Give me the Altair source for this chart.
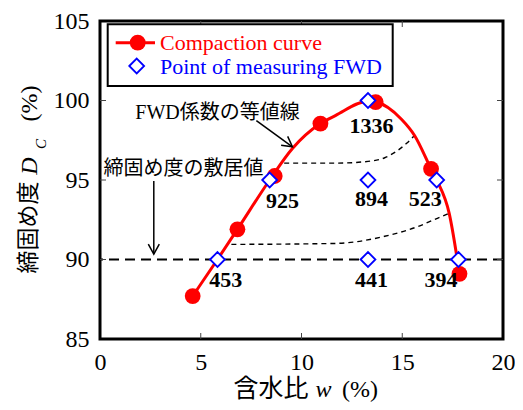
import altair as alt
import pandas as pd

SERIF = "Liberation Serif"
MIXED = "Liberation Serif, Noto Sans CJK JP"
W, H = 403, 318

# Compaction curve measured points
comp_x = [4.60, 6.82, 8.67, 10.94, 13.68, 16.43, 17.84]
comp_y = [87.7, 91.9, 95.25, 98.55, 99.9, 95.7, 89.1]

# Smooth curve traced through the points
curve_x = [4.60, 5.83, 6.82, 8.42, 9.55, 10.94, 11.68, 13.3, 13.68, 14.96, 15.61, 16.43, 16.71, 17.33, 17.84]
curve_y = [87.7, 90.0, 91.9, 95.0, 96.98, 98.55, 99.05, 99.95, 99.9, 98.82, 97.8, 95.7, 95.0, 92.9, 89.1]

# FWD measuring points and FWD coefficients
fwd_x = [13.3, 8.42, 13.3, 16.71, 5.83, 13.3, 17.79]
fwd_y = [100, 95, 95, 95, 90, 90, 90]
fwd_labels = ["1336", "925", "894", "523", "453", "441", "394"]
label_x = [13.48, 9.06, 13.48, 16.14, 6.24, 13.48, 16.92]
label_y = [98.42, 93.71, 93.8, 93.8, 88.7, 88.7, 88.7]

# FWD iso-coefficient contour lines (dashed)
c1_x = [9.14, 11.68, 13.3, 14.13, 14.8, 15.2, 15.61]
c1_y = [96.06, 96.06, 96.17, 96.4, 96.88, 97.29, 97.8]
c2_x = [6.52, 11.68, 14.13, 15.77, 16.92, 17.33]
c2_y = [90.95, 91.01, 91.46, 92.07, 92.69, 92.9]

threshold = 90
x_ticks = [0, 5, 10, 15, 20]
y_ticks = [85, 90, 95, 100, 105]
inner_x_ticks = [5, 10, 15]
inner_y_ticks = [90, 95, 100]

xs = alt.Scale(domain=[0, 20], nice=False)
ys = alt.Scale(domain=[85, 105], nice=False)

x_axis = alt.Axis(values=x_ticks, title=None, grid=False, domain=False, ticks=False, tickSize=0,
                  labelFont=SERIF, labelFontSize=24, labelColor="black", labelPadding=11,
                  labelFlush=False, labelOverlap=False)
y_axis = alt.Axis(values=y_ticks, title=None, grid=False, domain=False, ticks=False, tickSize=0,
                  labelFont=SERIF, labelFontSize=24, labelColor="black", labelPadding=11,
                  labelFlush=False, labelOverlap=False)

comp_df = pd.DataFrame({"x": comp_x, "y": comp_y})
curve_df = pd.DataFrame({"x": curve_x, "y": curve_y})
fwd_df = pd.DataFrame({"x": fwd_x, "y": fwd_y, "lab": fwd_labels, "lx": label_x, "ly": label_y})
cont_df = pd.DataFrame({
    "x": c1_x + c2_x,
    "y": c1_y + c2_y,
    "g": ["a"] * len(c1_x) + ["b"] * len(c2_x),
})

base_x = alt.X("x:Q", scale=xs, axis=x_axis)
base_y = alt.Y("y:Q", scale=ys, axis=y_axis)

thr = alt.Chart(pd.DataFrame({"y": [threshold]})).mark_rule(
    color="black", strokeWidth=2, strokeDash=[10, 6]
).encode(y=alt.Y("y:Q", scale=ys, axis=y_axis))

contours = alt.Chart(cont_df).mark_line(
    color="black", strokeWidth=1.4, strokeDash=[5, 4], interpolate="monotone"
).encode(x=base_x, y=base_y, detail="g:N")

curve = alt.Chart(curve_df).mark_line(
    color="red", strokeWidth=3, interpolate="monotone"
).encode(x=base_x, y=base_y)

circles = alt.Chart(comp_df).mark_point(
    shape="circle", filled=True, color="red", size=250, opacity=1
).encode(x=base_x, y=base_y)

diamonds = alt.Chart(fwd_df).mark_point(
    shape="diamond", filled=True, fill="white", stroke="blue", strokeWidth=1.8, size=220, opacity=1
).encode(x=base_x, y=base_y)

labels = alt.Chart(fwd_df).mark_text(
    font=SERIF, fontSize=22, fontWeight="bold", color="black", baseline="middle"
).encode(x=alt.X("lx:Q", scale=xs), y=alt.Y("ly:Q", scale=ys), text="lab:N")

# annotations
ann_text = pd.DataFrame({
    "x": [5.83, 4.15],
    "y": [99.23, 95.7],
    "t": ["FWD係数の等値線", "締固め度の敷居値"],
})
ann = alt.Chart(ann_text).mark_text(font=MIXED, fontSize=20, color="black", baseline="middle").encode(
    x=alt.X("x:Q", scale=xs), y=alt.Y("y:Q", scale=ys), text="t:N")

arrows = pd.DataFrame({
    "x": [7.76, 2.67], "y": [98.74, 94.94],
    "x2": [9.55, 2.67], "y2": [97.09, 90.34],
    "ang": [36.5, 90],
})
arrow_lines = alt.Chart(arrows).mark_rule(color="black", strokeWidth=1.5).encode(
    x=alt.X("x:Q", scale=xs), y=alt.Y("y:Q", scale=ys), x2="x2:Q", y2="y2:Q")
arrow_heads = alt.Chart(arrows).mark_point(
    shape="M-1,-0.55L0,0L-1,0.55", filled=False, stroke="black", strokeWidth=1.5, size=400, opacity=1
).encode(x=alt.X("x2:Q", scale=xs), y=alt.Y("y2:Q", scale=ys), angle=alt.Angle("ang:Q", scale=None))

# inward ticks
tx = pd.DataFrame({"x": inner_x_ticks})
ty = pd.DataFrame({"y": inner_y_ticks})
tick_style = dict(color="#444444", strokeWidth=1)
top_ticks = alt.Chart(tx).mark_rule(**tick_style).encode(
    x=alt.X("x:Q", scale=xs), y=alt.value(0), y2=alt.value(6))
bot_ticks = alt.Chart(tx).mark_rule(**tick_style).encode(
    x=alt.X("x:Q", scale=xs), y=alt.value(H - 6), y2=alt.value(H))
left_ticks = alt.Chart(ty).mark_rule(**tick_style).encode(
    y=alt.Y("y:Q", scale=ys), x=alt.value(0), x2=alt.value(6))
right_ticks = alt.Chart(ty).mark_rule(**tick_style).encode(
    y=alt.Y("y:Q", scale=ys), x=alt.value(W - 6), x2=alt.value(W))

one = pd.DataFrame({"a": [0]})

def txt(t, x, y, size=24, style="normal", color="black", angle=0, align="center", baseline="middle", font=SERIF):
    kw = dict(text=t, fontSize=size, fontStyle=style, color=color, align=align, baseline=baseline, font=font)
    if angle:
        kw["angle"] = angle
    return alt.Chart(one).mark_text(**kw).encode(x=alt.value(x), y=alt.value(y))

# legend
leg_box = alt.Chart(one).mark_rect(fill="white", stroke="black", strokeWidth=2).encode(
    x=alt.value(7.7), x2=alt.value(292.7), y=alt.value(3.3), y2=alt.value(65))
leg_line = alt.Chart(one).mark_rule(color="red", strokeWidth=3).encode(
    x=alt.value(15.7), x2=alt.value(55), y=alt.value(21.7))
leg_circle = alt.Chart(one).mark_point(shape="circle", filled=True, color="red", size=250, opacity=1).encode(
    x=alt.value(37.7), y=alt.value(21.7))
leg_diamond = alt.Chart(one).mark_point(shape="diamond", filled=True, fill="white", stroke="blue",
                                        strokeWidth=1.8, size=220, opacity=1).encode(
    x=alt.value(36.7), y=alt.value(45))
leg_t1 = txt("Compaction curve", 60, 29.3, size=22, color="red", align="left", baseline="alphabetic")
leg_t2 = txt("Point of measuring FWD", 60, 53.3, size=22, color="blue", align="left", baseline="alphabetic")

# axis titles
xt1 = txt("含水比", 171, 376, size=25, baseline="alphabetic", font=MIXED)
xt2 = txt("w", 223.5, 376, size=24, style="italic", baseline="alphabetic")
xt3 = txt("(%)", 260, 376, size=24, baseline="alphabetic")

yt1 = txt("締固め度", -71.5, 206.5, size=23, angle=270, font=MIXED)
yt2 = txt("D", -70, 145, size=24, style="italic", angle=270)
yt3 = txt("C", -59, 123, size=15, style="italic", angle=270)
yt4 = txt("(%)", -70, 82.5, size=24, angle=270)

chart = alt.layer(
    thr, contours, curve, circles, diamonds, labels, ann, arrow_lines, arrow_heads,
    top_ticks, bot_ticks, left_ticks, right_ticks,
    leg_box, leg_line, leg_circle, leg_diamond, leg_t1, leg_t2,
    xt1, xt2, xt3, yt1, yt2, yt3, yt4,
).properties(
    width=W, height=H,
    autosize="none",
    padding={"left": 92, "top": 13, "right": 12, "bottom": 63},
    background="white",
).configure_view(stroke="black", strokeWidth=3)

chart.save("out.html", embed_options={"renderer": "svg", "actions": False})
